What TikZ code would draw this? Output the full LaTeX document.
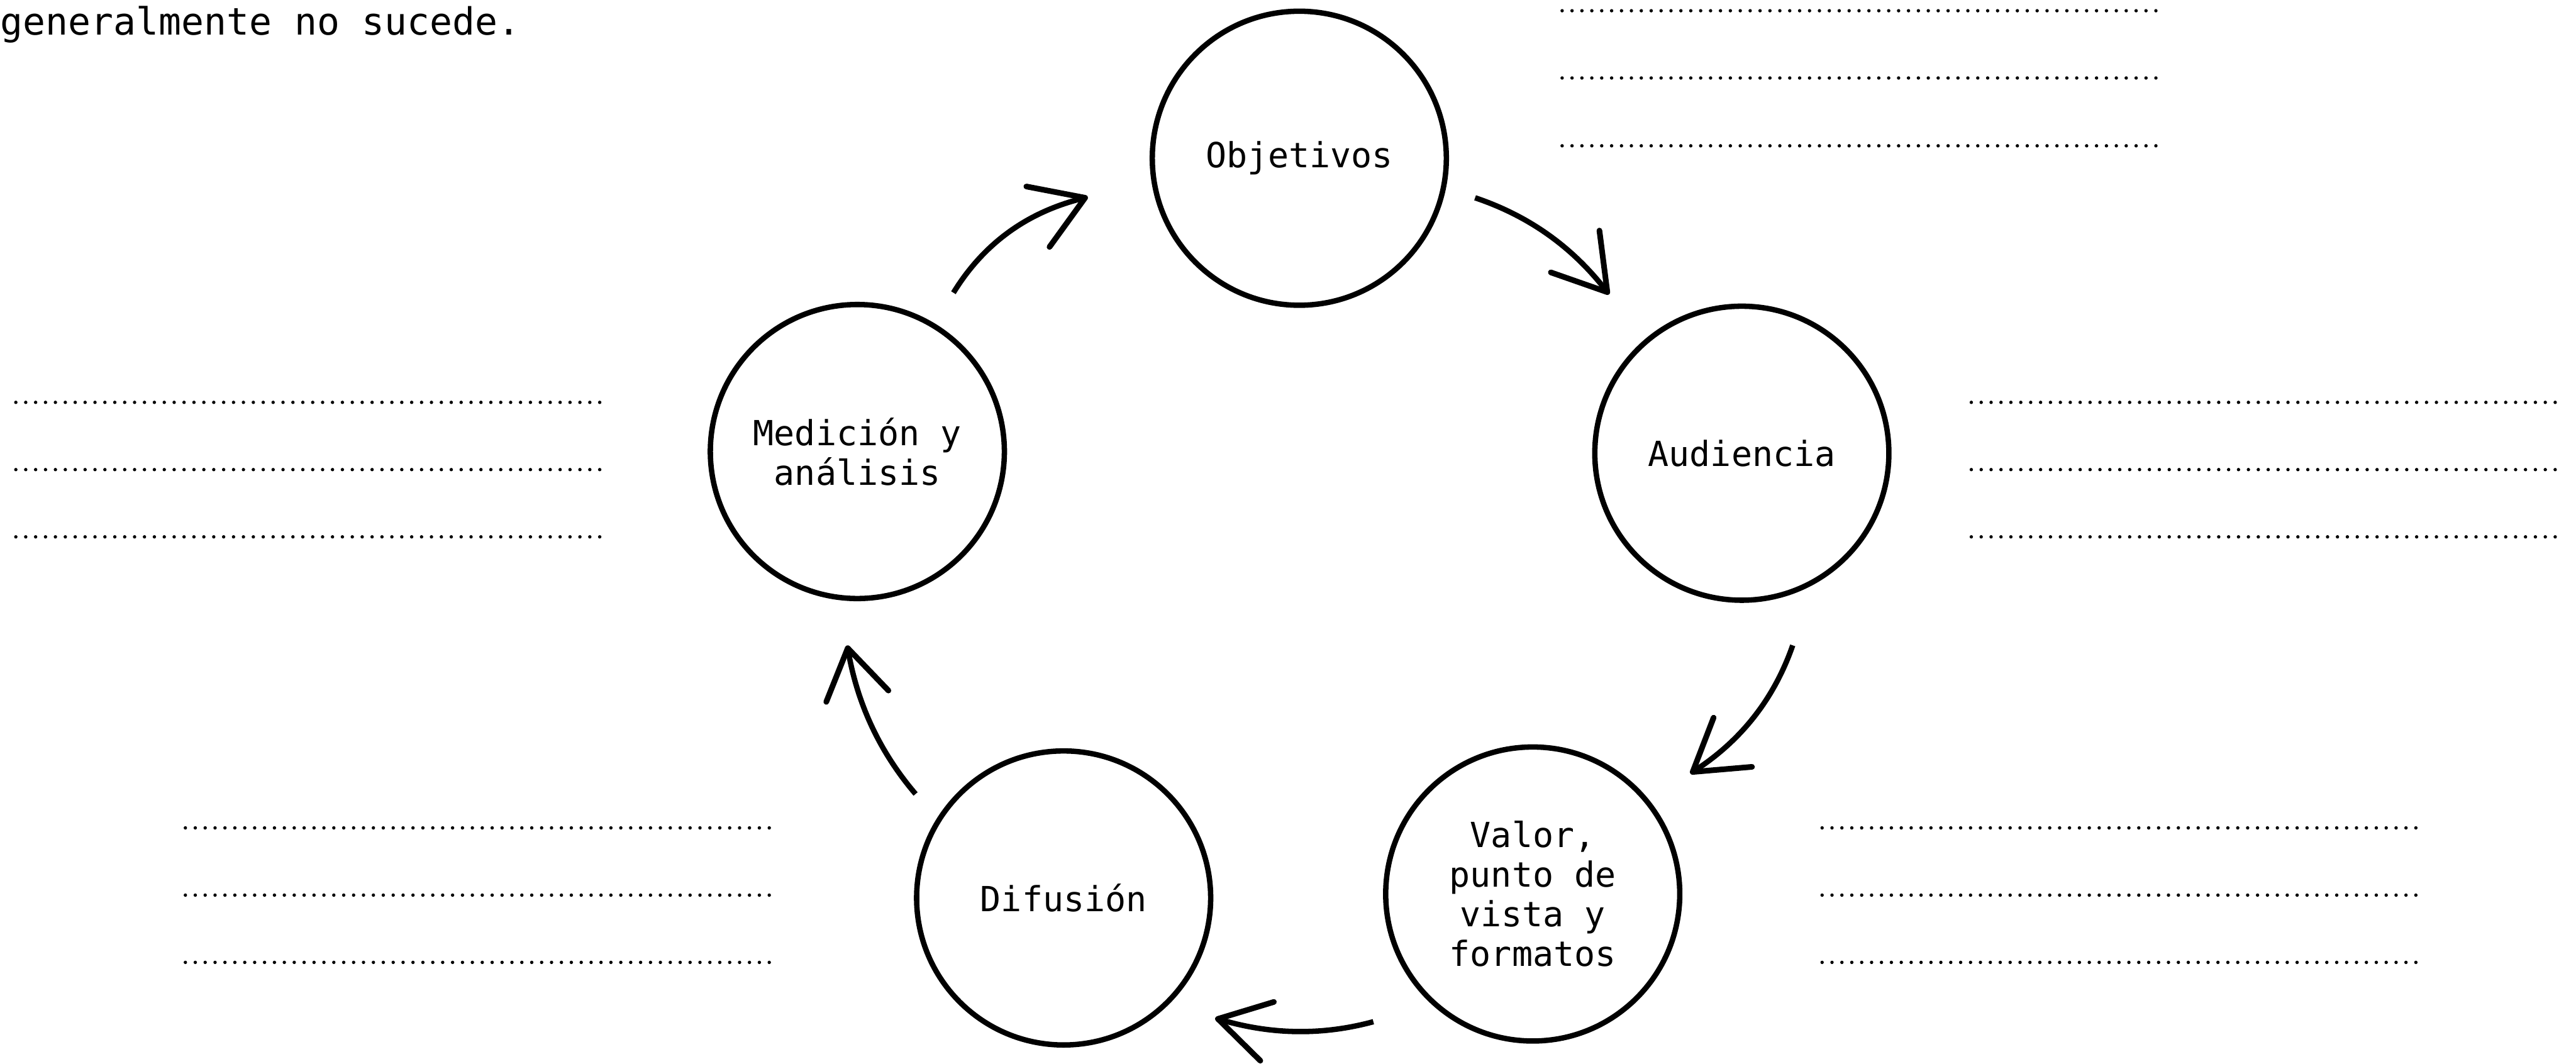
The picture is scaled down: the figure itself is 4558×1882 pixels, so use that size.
\documentclass[tikz,border=0pt]{standalone}
\usepackage{fontspec}
\setmainfont{DejaVu Sans Mono}
\newcommand{\circfont}{\fontsize{17.4pt}{19.9pt}\selectfont}
\newcommand{\notefont}{\fontsize{18.9pt}{22pt}\selectfont}
\begin{document}
\begin{tikzpicture}[x=0.01cm,y=-0.01cm,
  stage/.style={circle,draw,line width=0.095cm,minimum size=5.2cm,inner sep=0pt,align=center,font=\circfont},
  shaft/.style={line width=0.095cm,line cap=butt},
  barb/.style={line width=0.1cm,line cap=round,line join=round},
  blank/.style={line width=0.06cm,line cap=round,dash pattern=on 0pt off 0.175cm}]
\useasboundingbox (0,0) rectangle (4558,1882);
\clip (0,0) rectangle (4558,1882);

% stages
\node[stage] (obj) at (2299,280) {Objetivos};
\node[stage] (aud) at (3082,802) {Audiencia};
\node[stage] (val) at (2712,1582) {Valor,\\punto de\\vista y\\formatos};
\node[stage] (dif) at (1882,1589) {Difusión};
\node[stage] (med) at (1517,799) {Medición y\\análisis};

% cut-off note
\node[anchor=base west,inner sep=0pt,font=\notefont] (nota) at (0,62) {generalmente no sucede.};

% arrow ends
\coordinate (s1) at (1687,518);  \coordinate (t1) at (1920,350);
\coordinate (a1) at (1816,330);  \coordinate (b1) at (1857,437);
\coordinate (s2) at (2610,350);  \coordinate (t2) at (2844,517);
\coordinate (a2) at (2744,482);  \coordinate (b2) at (2830,408);
\coordinate (s3) at (3172,1142); \coordinate (t3) at (2995,1366);
\coordinate (a3) at (3032,1270); \coordinate (b3) at (3100,1357);
\coordinate (s4) at (2430,1808); \coordinate (t4) at (2155,1803);
\coordinate (a4) at (2254,1773); \coordinate (b4) at (2230,1877);
\coordinate (s5) at (1620,1405); \coordinate (t5) at (1500,1147);
\coordinate (a5) at (1462,1242); \coordinate (b5) at (1572,1222);

\draw[shaft] (s1) .. controls (1741,430) and (1819,374) .. (t1);
\draw[barb] (a1) -- (t1) -- (b1);
\draw[shaft] (s2) .. controls (2705,382) and (2783,437) .. (t2);
\draw[barb] (a2) -- (t2) -- (b2);
\draw[shaft] (s3) .. controls (3139,1237) and (3080,1312) .. (t3);
\draw[barb] (a3) -- (t3) -- (b3);
\draw[shaft] (s4) .. controls (2338,1833) and (2246,1831) .. (t4);
\draw[barb] (a4) -- (t4) -- (b4);
\draw[shaft] (s5) .. controls (1556,1330) and (1516,1244) .. (t5);
\draw[barb] (a5) -- (t5) -- (b5);

% blank writing lines
\foreach \y in {19,138,258} \draw[blank] (2764,\y) -- (3818,\y);
\foreach \y in {712,831,950} {
  \draw[blank] (28,\y) -- (1073,\y);
  \draw[blank] (3488,\y) -- (4535,\y);
}
\foreach \y in {1465,1584,1703} {
  \draw[blank] (328,\y) -- (1378,\y);
  \draw[blank] (3224,\y) -- (4276,\y);
}
\end{tikzpicture}
\end{document}
